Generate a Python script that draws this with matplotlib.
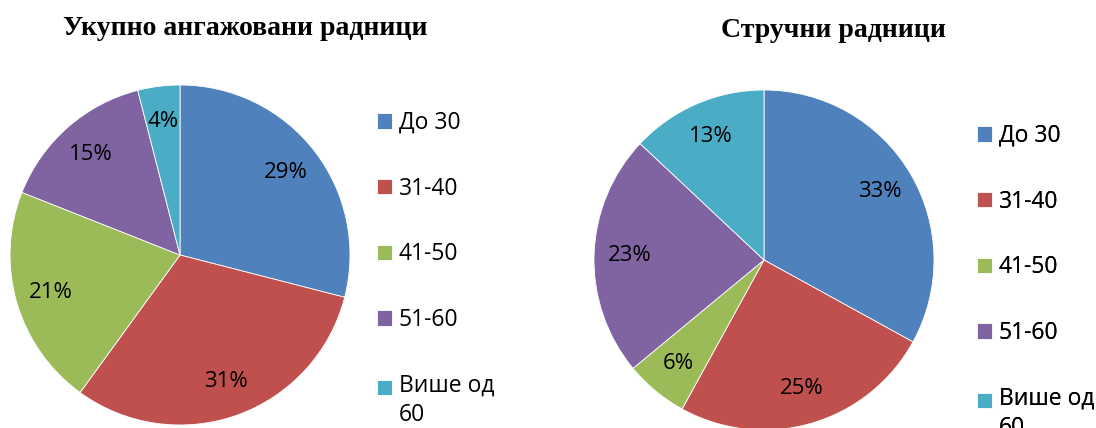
import matplotlib
matplotlib.use("Agg")
from matplotlib import pyplot as plt

# data
categories = ["До 30", "31-40", "41-50", "51-60", "Више од\n60"]
total_pct = [29, 31, 21, 15, 4]
expert_pct = [33, 25, 6, 23, 13]
titles = ["Укупно ангажовани радници", "Стручни радници"]
colors = ["#4F81BD", "#C0504D", "#9BBB59", "#8064A2", "#4BACC6"]

W, H = 1096, 428
fig = plt.figure(figsize=(W / 100, H / 100), dpi=100)
ax = fig.add_axes([0, 0, 1, 1])

label_font = dict(family="Open Sans", size=16)

# left pie
w1, t1, a1 = ax.pie(total_pct, colors=colors, startangle=90, counterclock=False,
                    center=(180, H - 255), radius=170, autopct="%d%%",
                    pctdistance=0.79, textprops=label_font,
                    wedgeprops=dict(edgecolor="white", linewidth=0.6))
# right pie
w2, t2, a2 = ax.pie(expert_pct, colors=colors, startangle=90, counterclock=False,
                    center=(764, H - 260), radius=170, autopct="%d%%",
                    pctdistance=0.79, textprops=label_font,
                    wedgeprops=dict(edgecolor="white", linewidth=0.6))

ax.set_xlim(0, W)
ax.set_ylim(0, H)
ax.set_aspect("equal")
ax.axis("off")

# titles
title_font = dict(family="Liberation Serif", weight="bold", size=20)
ax.text(245, H - 28, titles[0], ha="center", va="center", **title_font)
ax.text(833, H - 30, titles[1], ha="center", va="center", **title_font)

# legends
leg_kw = dict(loc="upper left", frameon=False, prop=dict(family="Open Sans", size=16.5),
              handlelength=0.65, handleheight=0.65, handletextpad=0.3,
              labelspacing=1.82, borderpad=0, borderaxespad=0)
for wedges, x0, y0 in [(w1, 377, 111), (w2, 977, 124)]:
    leg = ax.legend(wedges, categories, bbox_to_anchor=(x0 / W, 1 - y0 / H), **leg_kw)
    for t in leg.get_texts():
        t.set_linespacing(1.3)
    # square of the two-line entry sits on its first line
    last = leg.legend_handles[-1]
    last.set_y(last.get_y() + 10)
    ax.add_artist(leg)

fig.savefig("out.png", dpi=100)
